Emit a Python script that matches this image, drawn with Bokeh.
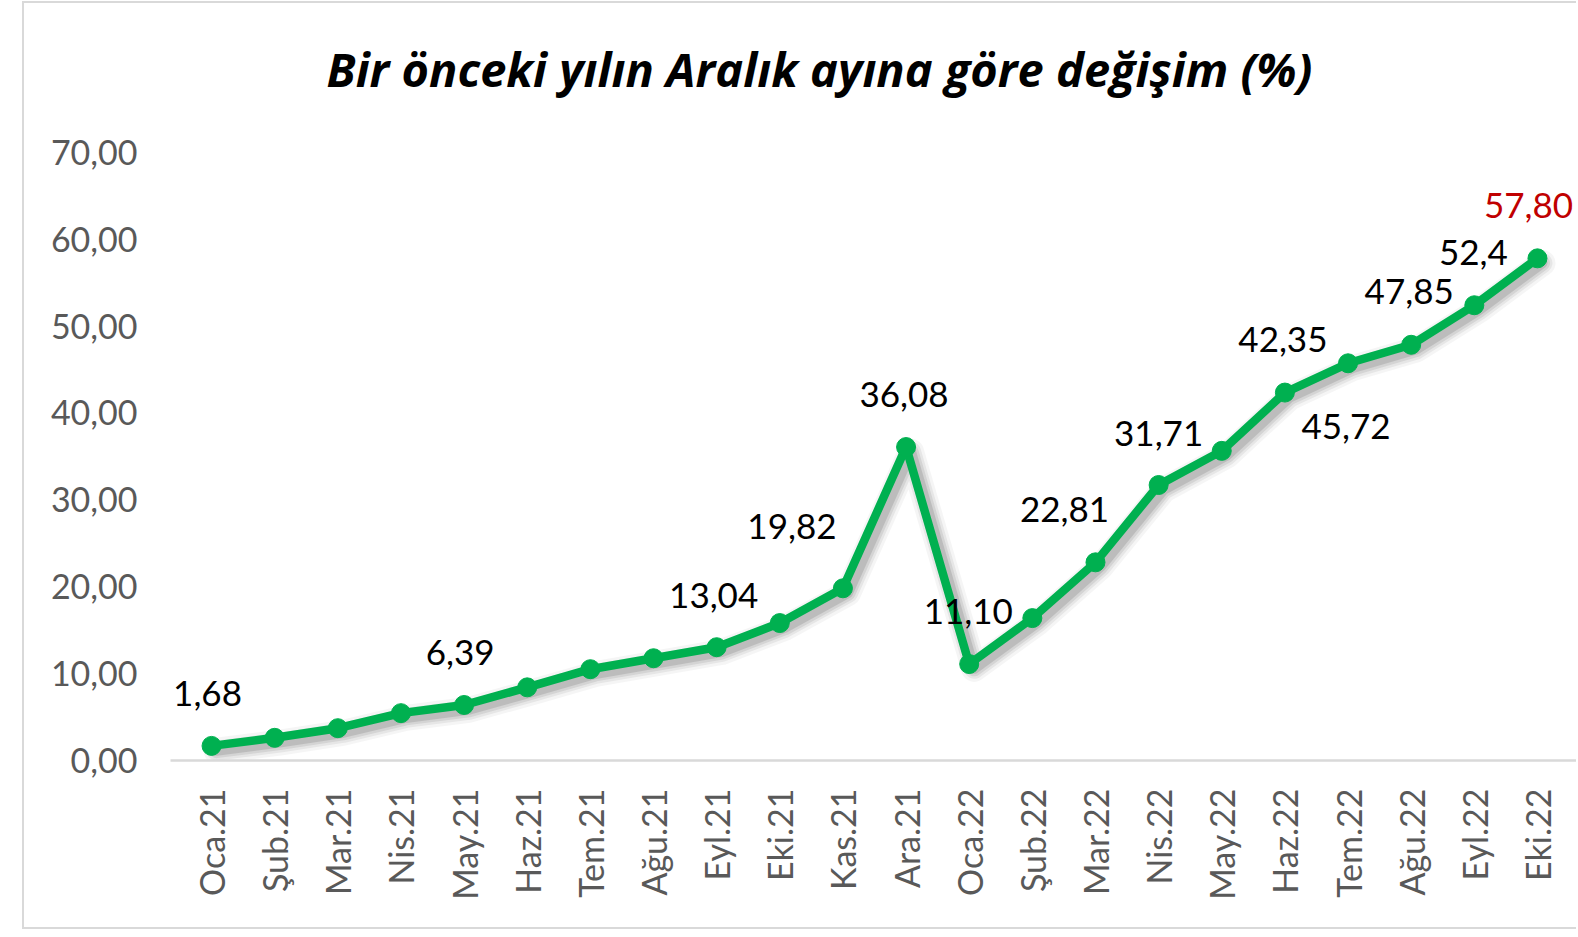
import math
from bokeh.plotting import figure
from bokeh.models import ColumnDataSource, FactorRange, Range1d, FixedTicker, LabelSet
from bokeh.core.properties import value
from bokeh.transform import dodge
from bokeh.embed import file_html
from bokeh.resources import INLINE

# ---- data ----
months = ["Oca.21", "Şub.21", "Mar.21", "Nis.21", "May.21", "Haz.21", "Tem.21", "Ağu.21",
          "Eyl.21", "Eki.21", "Kas.21", "Ara.21", "Oca.22", "Şub.22", "Mar.22", "Nis.22",
          "May.22", "Haz.22", "Tem.22", "Ağu.22", "Eyl.22", "Eki.22"]
values = [1.68, 2.61, 3.72, 5.45, 6.39, 8.42, 10.51, 11.77, 13.04, 15.82, 19.82, 36.08,
          11.10, 16.39, 22.81, 31.71, 35.64, 42.35, 45.72, 47.85, 52.40, 57.80]
label_months = ["Oca.21", "May.21", "Eyl.21", "Kas.21", "Ara.21", "Oca.22", "Mar.22",
                "Nis.22", "Haz.22", "Tem.22", "Ağu.22", "Eyl.22", "Eki.22"]
label_texts = ["1,68", "6,39", "13,04", "19,82", "36,08", "11,10", "22,81",
               "31,71", "42,35", "45,72", "47,85", "52,4", "57,80"]
y_ticks = [0, 10, 20, 30, 40, 50, 60, 70]
y_tick_labels = ["0,00", "10,00", "20,00", "30,00", "40,00", "50,00", "60,00", "70,00"]
title_text = "Bir önceki yılın Aralık ayına göre değişim (%)"

# ---- placement / style ----
label_dx = [-4, -4, -3, -51, -2, -1, -31, 0, -2, -2, -2, -1, -9]
label_dy = [52, 52, 52, 62, 53, 53, 53, 52, 53, -63, 53, 53, 53]
label_colors = ["#000000"] * 12 + ["#C00000"]

val_by_month = dict(zip(months, values))
src = ColumnDataSource(dict(x=months, y=values))
lsrc = ColumnDataSource(dict(x=label_months, y=[val_by_month[m] for m in label_months],
                             t=label_texts, dx=label_dx, dy=label_dy, c=label_colors))

p = figure(width=1554, height=928,
           x_range=FactorRange(*months, range_padding=0.3 / 22),
           y_range=Range1d(0, 72.4), output_backend="svg", toolbar_location=None,
           min_border_left=146, min_border_right=0, min_border_top=128, min_border_bottom=171)
p.margin = (1, 0, 0, 22)
p.styles = {"border-top": "2px solid #D9D9D9", "border-left": "2px solid #D9D9D9",
            "border-bottom": "2px solid #D9D9D9"}

p.title.text = title_text
p.title.text_font = "Open Sans"
p.title.text_font_style = "bold italic"
p.title.text_font_size = "47px"
p.title.text_color = "#000000"
p.title.align = "left"
p.title.offset = 156
p.title.standoff = 62

p.xgrid.visible = False
p.ygrid.visible = False
p.outline_line_color = None
p.background_fill_color = "white"
p.border_fill_color = "white"

p.yaxis.ticker = FixedTicker(ticks=y_ticks)
p.yaxis.major_label_overrides = dict(zip(y_ticks, y_tick_labels))
p.yaxis.axis_line_color = None
p.yaxis.major_tick_line_color = None
p.yaxis.minor_tick_line_color = None
p.yaxis.major_tick_out = 0
p.yaxis.minor_tick_out = 0
p.yaxis.major_label_standoff = 33
p.yaxis.major_label_text_font = "Lato"
p.yaxis.major_label_text_font_size = "34px"
p.yaxis.major_label_text_color = "#595959"

p.xaxis.axis_line_color = "#D9D9D9"
p.xaxis.axis_line_width = 2.5
p.xaxis.major_tick_line_color = None
p.xaxis.major_tick_out = 0
p.xaxis.major_label_standoff = 28
p.xaxis.major_label_orientation = math.pi / 2
p.xaxis.major_label_text_font = "Lato"
p.xaxis.major_label_text_font_size = "34px"
p.xaxis.major_label_text_color = "#595959"

# shadow (soft, offset down-right)
sx = dodge("x", 0.08, range=p.x_range)
sy = dodge("y", -0.55)
for w, a in [(26, 0.04), (20, 0.06), (15, 0.08), (10, 0.11)]:
    p.line(x=sx, y=sy, source=src, line_width=w, line_color="black", line_alpha=a,
           line_join="round", line_cap="round")

p.line(x="x", y="y", source=src, line_width=8.5, line_color="#00B050", line_join="round")
p.scatter(x="x", y="y", source=src, marker="circle", size=19, fill_color="#00B050",
          line_color="#00B050")

labels = LabelSet(x="x", y="y", text="t", source=lsrc, x_offset="dx", y_offset="dy",
                  text_color="c", text_font=value("Lato"), text_font_size="35px",
                  text_align="center", text_baseline="middle")
p.add_layout(labels)

open("out.html", "w").write(file_html(p, INLINE))
